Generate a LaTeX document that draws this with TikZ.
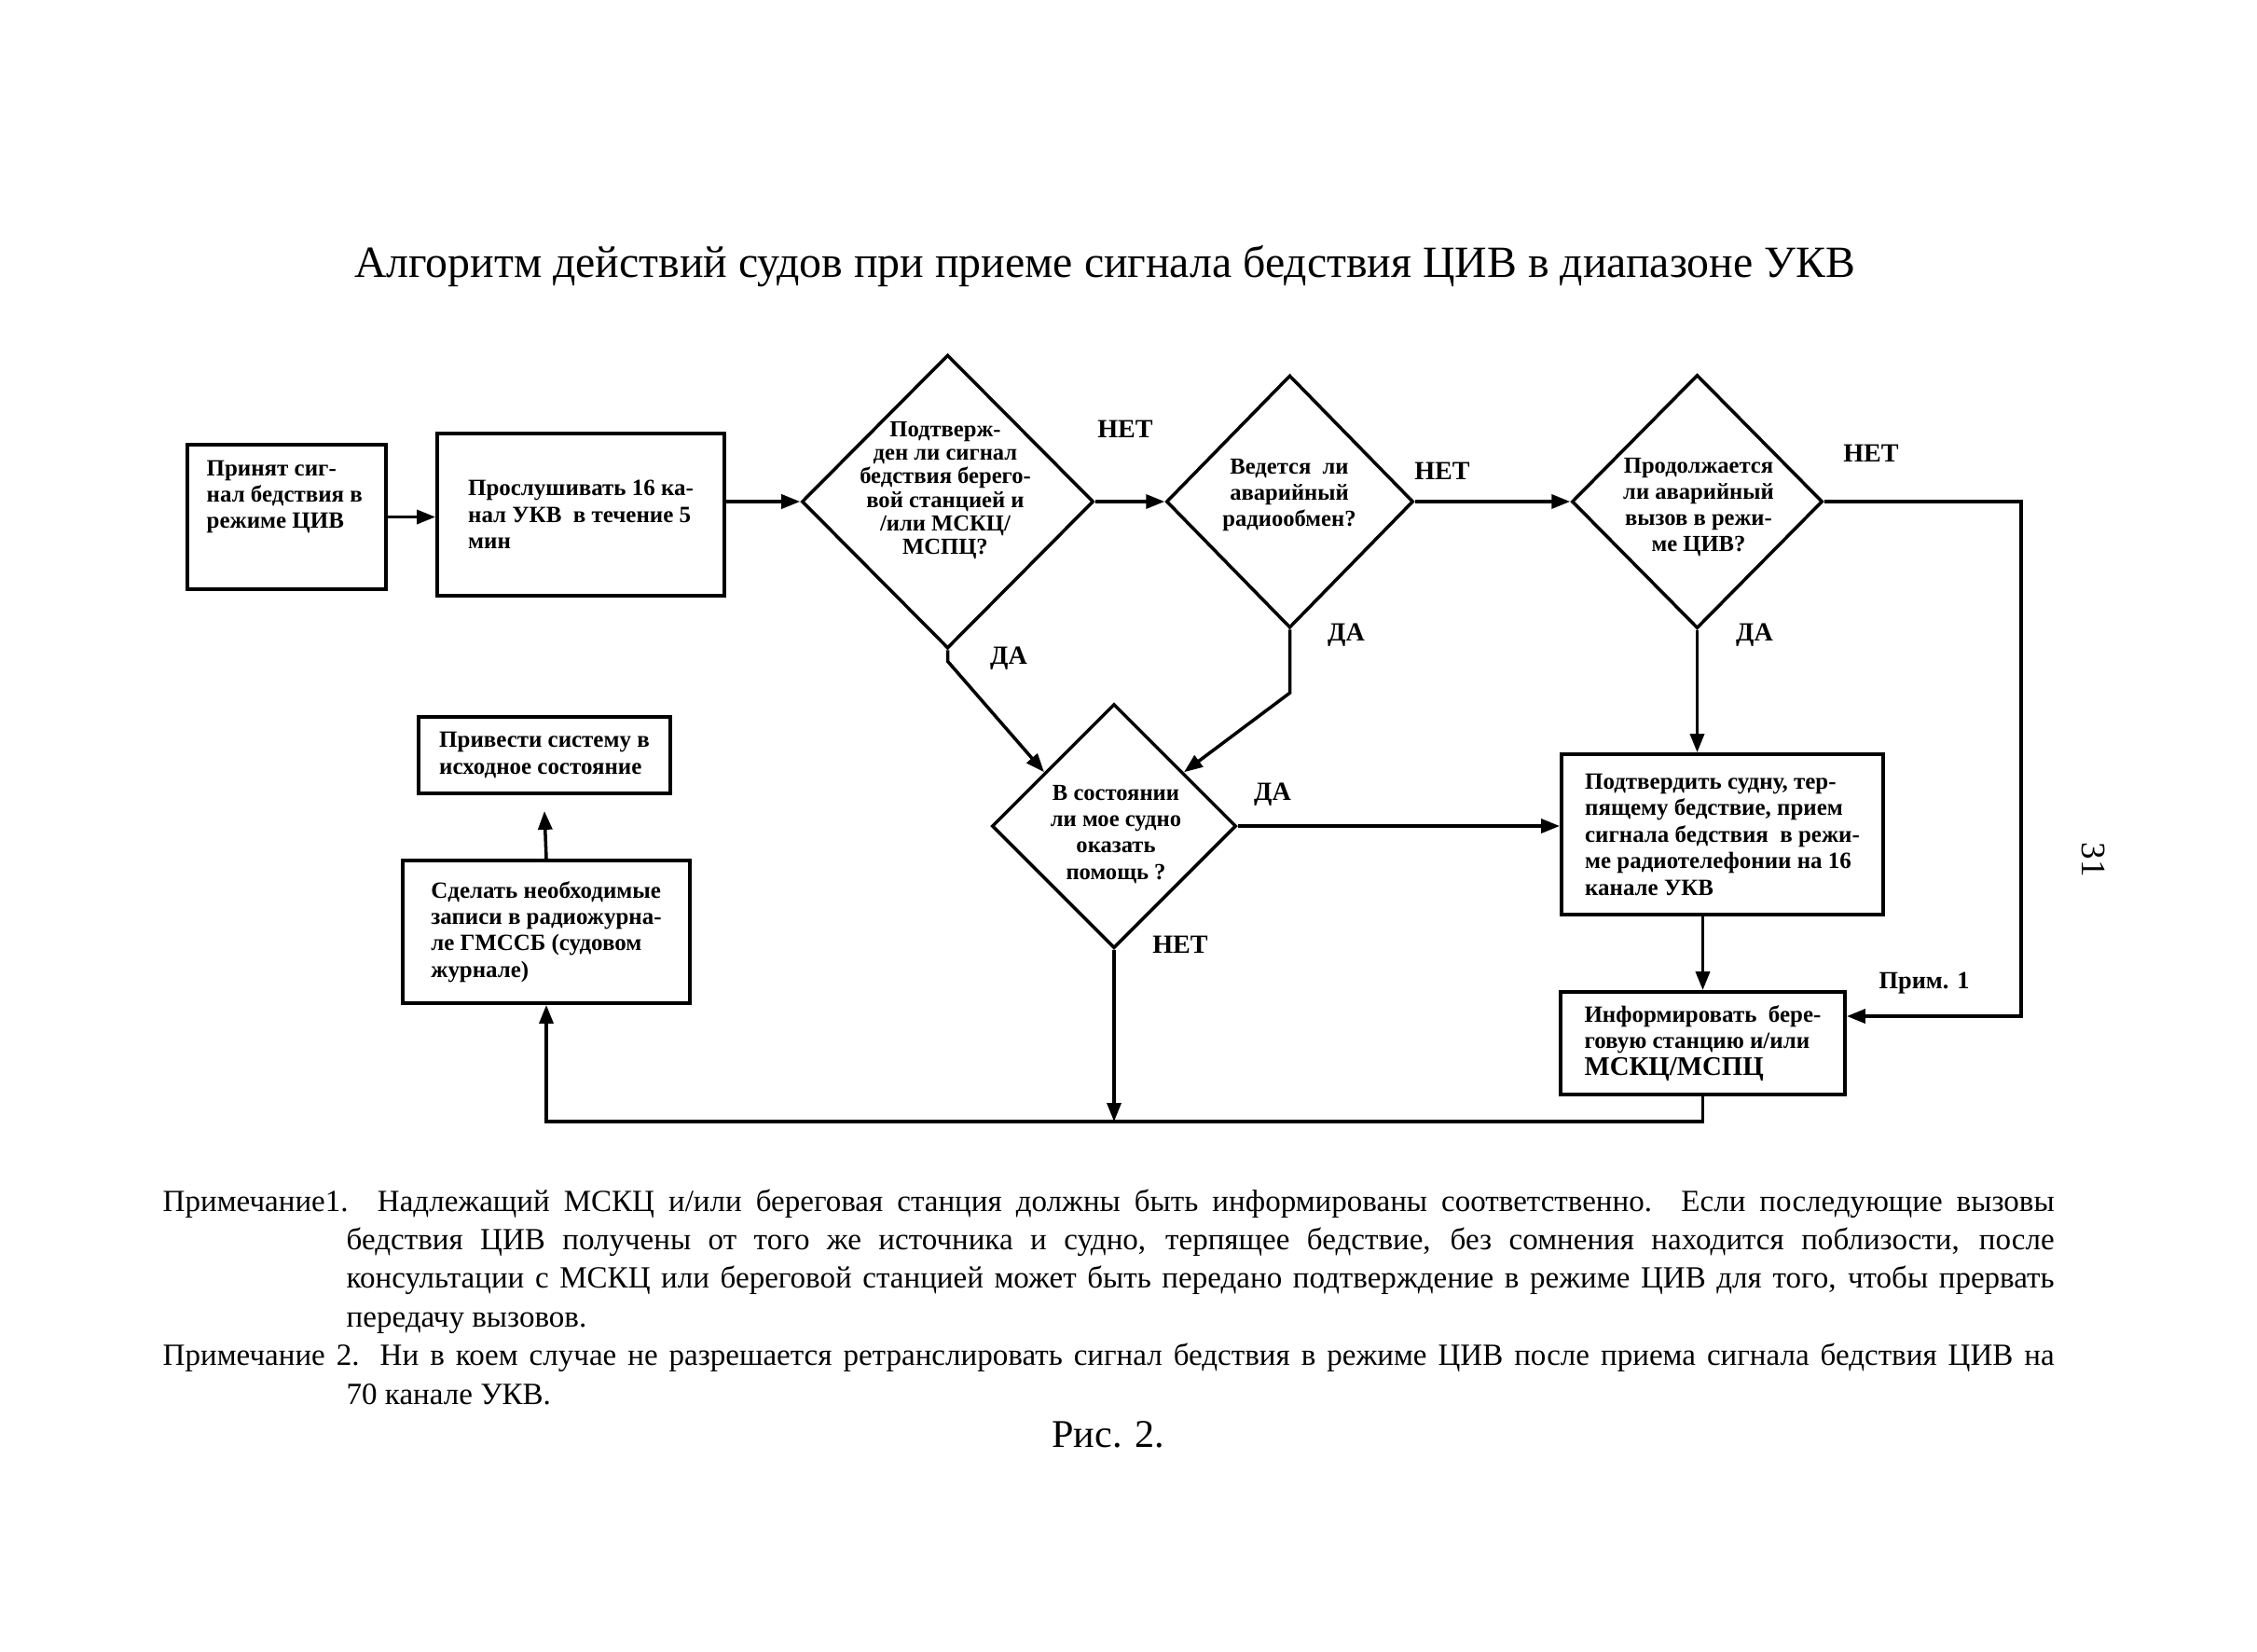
\documentclass[tikz,border=0pt]{standalone}
\usepackage{fontspec}
\setmainfont{Liberation Serif}
\usetikzlibrary{shapes.geometric,arrows.meta,calc}
\begin{document}
\begin{tikzpicture}[
  box/.style={draw, line width=1.1pt, inner xsep=0.2cm, inner ysep=0pt, align=left, font=\bfseries\fontsize{7.1}{8.1}\selectfont},
  dia/.style={draw, diamond, line width=1pt, inner sep=0pt, aspect=1},
  btxt/.style={font=\bfseries\fontsize{7.1}{8.1}\selectfont, align=left, inner sep=0pt},
  dtxt/.style={font=\bfseries\fontsize{7}{7.2}\selectfont, align=center, inner sep=0pt},
  dtxtb/.style={font=\bfseries\fontsize{7}{8}\selectfont, align=center, inner sep=0pt},
  lbl/.style={font=\bfseries\fontsize{8}{9}\selectfont, inner sep=0pt},
  arr/.style={line width=1pt, -{Triangle[length=2mm,width=1.5mm]}},
  ln/.style={line width=1pt}
]
\path[fill=white] (0,0) rectangle (24.21,-17.71);
\useasboundingbox (0,0) rectangle (24.21,-17.71);

% title
\node[font=\fontsize{13.6}{16}\selectfont, inner sep=0pt] (title) at (11.85,-2.86)
  {Алгоритм действий судов при приеме сигнала бедствия ЦИВ в диапазоне УКВ};

% boxes
\node[draw, line width=1.1pt, minimum width=2.13cm, minimum height=1.55cm, inner sep=0pt] (b1) at (3.075,-5.545) {};
\node[btxt, anchor=north west] (b1t) at (2.21,-4.93) {Принят сиг-\\нал бедствия в\\режиме ЦИВ};

\node[box, minimum width=3.08cm, minimum height=1.74cm] (b2) at (6.23,-5.52)
  {Прослушивать 16 ка-\\нал УКВ\ \ в течение 5\\мин};

\node[box, minimum width=3.45cm, minimum height=1.72cm] (b5) at (18.475,-8.95)
  {Подтвердить судну, тер-\\пящему бедствие, прием\\сигнала бедствия\ \ в режи-\\ме радиотелефонии на 16\\канале УКВ};

\node[box, minimum width=3.05cm, minimum height=1.10cm] (b6) at (18.265,-11.19)
  {Информировать\ \ бере-\\говую станцию и/или\\{\fontsize{8.2}{9.5}\selectfont МСКЦ/МСПЦ}};

\node[box, minimum width=3.08cm, minimum height=1.53cm] (b7) at (5.86,-9.995)
  {Сделать необходимые\\записи в радиожурна-\\ле ГМССБ (судовом\\журнале)};

\node[box, minimum width=2.70cm, minimum height=0.82cm] (b8) at (5.84,-8.10)
  {Привести систему в\\исходное состояние};

% diamonds
\node[dia, minimum width=3.13cm, minimum height=3.15cm] (d1) at (10.165,-5.38) {};
\node[dtxt] (d1t) at (10.14,-5.26) {Подтверж-\\ден ли сигнал\\бедствия берего-\\вой станцией и\\/или МСКЦ/\\МСПЦ?};

\node[dia, minimum width=2.65cm, minimum height=2.71cm] (d2) at (13.835,-5.38) {};
\node[dtxtb] (d2t) at (13.83,-5.31) {Ведется\ \ ли\\аварийный\\радиообмен?};

\node[dia, minimum width=2.69cm, minimum height=2.72cm] (d3) at (18.205,-5.38) {};
\node[dtxtb] (d3t) at (18.22,-5.44) {Продолжается\\ли аварийный\\вызов в режи-\\ме ЦИВ?};

\node[dia, minimum width=2.62cm, minimum height=2.62cm] (d4) at (11.95,-8.86) {};
\node[dtxtb] (d4t) at (11.97,-8.95) {В состоянии\\ли мое судно\\оказать\\помощь ?};

% labels
\node[lbl] (n1) at (12.07,-4.60) {НЕТ};
\node[lbl] (n2) at (15.47,-5.05) {НЕТ};
\node[lbl] (n3) at (20.07,-4.86) {НЕТ};
\node[lbl] (n4) at (12.66,-10.13) {НЕТ};
\node[lbl] (y1) at (10.82,-7.06) {ДА};
\node[lbl] (y2) at (14.44,-6.81) {ДА};
\node[lbl] (y3) at (18.82,-6.81) {ДА};
\node[lbl] (y4) at (13.65,-8.52) {ДА};
\node[font=\bfseries\fontsize{7.5}{9}\selectfont, inner sep=0pt] (pr1) at (20.64,-10.55) {Прим. 1};
\node[rotate=-90, font=\fontsize{10.5}{12}\selectfont, inner sep=0pt] (pg) at (22.46,-9.22) {31};

% helper coordinates
\coordinate (k1) at ($(d1.south)+(0,-0.12)$);
\coordinate (k2) at ($(d2.south)+(0,-0.68)$);
\coordinate (r1) at (21.68,-5.38);
\coordinate (r2) at (21.68,-10.90);
\coordinate (bot) at (0,-12.03);

% connectors
\draw[arr] (b1.east) -- (b1.east -| b2.west);
\draw[arr] (b2.east |- d1.west) -- (d1.west);
\draw[arr] (d1.east) -- (d2.west);
\draw[arr] (d2.east) -- (d3.west);
\draw[arr] (d1.south) -- (k1) -- ($(d4.north)!0.565!(d4.west)$);
\draw[arr] (d2.south) -- (k2) -- ($(d4.north)!0.565!(d4.east)$);
\draw[arr] (d3.south) -- (d3.south |- b5.north);
\draw[arr] (d4.east) -- (d4.east -| b5.west);
\draw[arr] (b6.north |- b5.south) -- (b6.north);
\draw[arr] (d3.east) -- (r1) -- (r2) -- (r2 -| b6.east);
\draw[arr] (d4.south) -- (d4.south |- bot);
\draw[arr] (b6.south) -- (b6.south |- bot) -- (b7.south |- bot) -- (b7.south);
\draw[arr] (b7.north) -- ([yshift=-0.17cm]b8.south);

% notes
\node[anchor=base west, text width=20.29cm, align=justify, inner sep=0pt,
      font=\fontsize{9.4}{11.8}\selectfont] (notes) at (1.74,-12.99)
{\tolerance=9000\hangindent=1.97cm\hangafter=1 Примечание1. Надлежащий МСКЦ и/или береговая станция должны быть информированы соответственно. Если последующие вызовы\linebreak
бедствия ЦИВ получены от того же источника и судно, терпящее бедствие, без сомнения находится поблизости, после\linebreak
консультации с МСКЦ или береговой станцией может быть передано подтверждение в режиме ЦИВ для того, чтобы прервать\linebreak
передачу вызовов.\par
\hangindent=1.97cm\hangafter=1 Примечание 2. Ни в коем случае не разрешается ретранслировать сигнал бедствия в режиме ЦИВ после приема сигнала бедствия ЦИВ на\linebreak
70 канале УКВ.\par};

\node[font=\fontsize{12}{14}\selectfont, inner sep=0pt] (fig) at (11.89,-15.39) {Рис. 2.};
\end{tikzpicture}
\end{document}
